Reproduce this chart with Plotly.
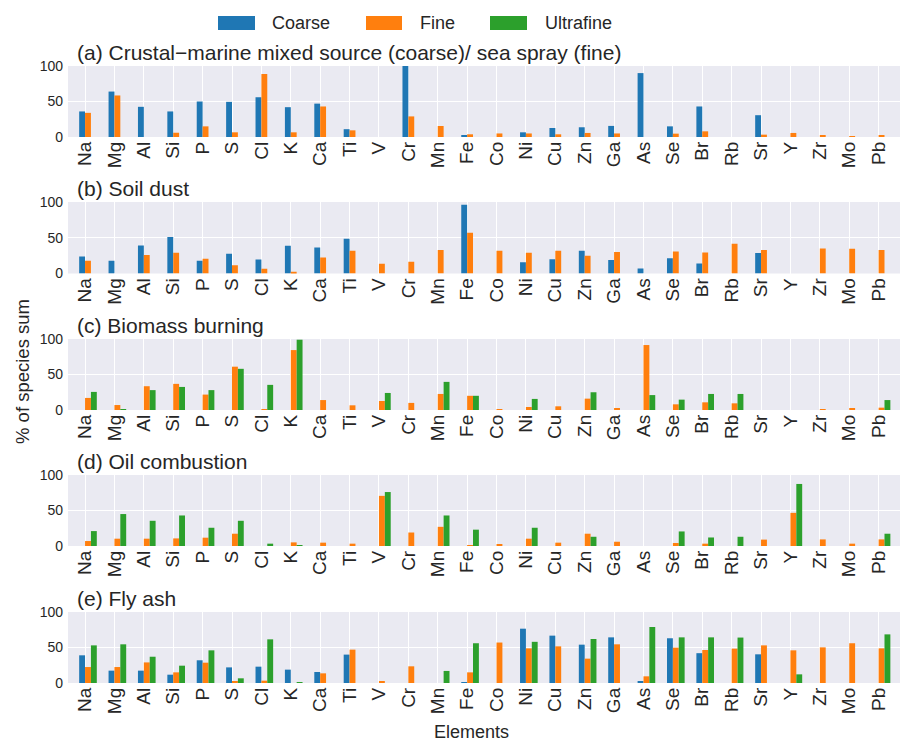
import plotly.graph_objects as go

elements = ["Na", "Mg", "Al", "Si", "P", "S", "Cl", "K", "Ca", "Ti", "V", "Cr", "Mn", "Fe",
            "Co", "Ni", "Cu", "Zn", "Ga", "As", "Se", "Br", "Rb", "Sr", "Y", "Zr", "Mo", "Pb"]
N = None

# (a) Crustal-marine mixed source (coarse) / sea spray (fine)
a_coarse = [36, 64, 42.5, 36, 50, 49.5, 56, 42, 47, 11, N, 100, N, 1.5,
            N, 6.6, 12.7, 13.7, 15.6, 90, 15, 43, N, 30.7, N, N, N, N]
a_fine = [34, 58.5, N, 6, 15, 6.6, 88.7, 6.6, 43, 9.4, N, 29, 15.5, 3.8,
          5, 5, 3.8, 5.7, 5, N, 4.7, 8, N, 3.3, 5.7, 2.4, 1, 2.4]
a_ultra = [N] * 28

# (b) Soil dust
b_coarse = [23.8, 17.8, 39, 51, 17.8, 27.6, 19.6, 38.8, 36.4, 48.6, N, N, N, 96,
            N, 15.9, 20, 31.8, 19, 7, 21.5, 14, N, 28.5, N, N, N, N]
b_fine = [17.8, N, 26, 29, 20.5, 11.7, 6.5, 2.3, 22.4, 31.8, 13.5, 16.4, 33, 57,
          31.8, 29, 31.8, 24.8, 30, N, 30.8, 29.4, 41.6, 33, N, 35, 34.6, 33]
b_ultra = [N] * 28

# (c) Biomass burning
c_coarse = [N] * 28
c_fine = [17, 7, 33.5, 36.8, 21.7, 61, 0.5, 84.4, 14, 6.6, 12.7, 10, 22.6, 20,
          1.4, 4.2, 5.2, 16, 2.4, 91.5, 8, 10.8, 9.4, N, N, 0.5, 1.9, 3.3]
c_ultra = [25.5, 1.4, 28, 32.5, 28, 58, 35.4, 99, N, N, 24, N, 39.6, 20,
           N, 15.6, N, 25, N, 21, 14.6, 22.6, 22.6, N, N, N, N, 14]

# (d) Oil combustion
d_coarse = [N] * 28
d_fine = [7, 10.3, 10.3, 10.7, 11.7, 17.3, N, 5.1, 4.7, 3.3, 70.6, 19, 27, 1.4,
          2, 10.3, 4.7, 17.3, 6, N, 4.2, 3.3, N, 9, 46.7, 9.3, 3.3, 9.3]
d_ultra = [21, 45, 35.5, 43, 25.7, 35.5, 3.3, 0.5, N, N, 76, N, 43, 23,
           N, 25.7, N, 13, N, N, 20.5, 12, 13, N, 87.4, N, N, 17.3]

# (e) Fly ash
e_coarse = [39, 17.4, 17.4, 11.7, 32, 22, 23, 18.8, 15.5, 40, N, N, N, 1,
            N, 76.5, 66.7, 54, 64.3, 1.9, 63, 42, N, 40.4, N, N, N, N]
e_fine = [22.5, 22.5, 29, 15, 28.6, 1.9, 3.3, N, 13.6, 47, 2.3, 23.5, N, 15,
          57, 48.8, 51.6, 34.3, 54.5, 9.4, 49.8, 46.5, 48.4, 53, 46, 50.2, 56, 48.8]
e_ultra = [53, 54.5, 37, 24.4, 46, 6.6, 61.5, 0.5, N, N, N, N, 17, 56,
           N, 58, N, 62, N, 78.9, 64.3, 64.3, 64, N, 12.2, N, N, 68.5]

series_names = ["Coarse", "Fine", "Ultrafine"]
colors = ["#1f77b4", "#ff7f0e", "#2ca02c"]
titles = ["(a) Crustal\u2212marine mixed source (coarse)/ sea spray (fine)",
          "(b) Soil dust", "(c) Biomass burning", "(d) Oil combustion", "(e) Fly ash"]
panels = [(a_coarse, a_fine, a_ultra), (b_coarse, b_fine, b_ultra),
          (c_coarse, c_fine, c_ultra), (d_coarse, d_fine, d_ultra),
          (e_coarse, e_fine, e_ultra)]
y_ticks = [0, 50, 100]

W, H = 908, 742
OFF = 8  # page body margin offset (px)


def px_x(p):
    return (p - OFF) / W


def px_y(p):
    return 1 - (p - OFF) / H


panel_px = [(66, 137), (202, 273.5), (339, 410), (475, 546), (612, 683)]
x_left = 68
x_right = 908
bw = 0.2
offsets = [-0.2, 0.0, 0.2]
text_col = "#262626"
font_fam = "Liberation Sans, Arial, sans-serif"

fig = go.Figure()
layout = dict(
    width=W, height=H, margin=dict(l=0, r=0, t=0, b=0, pad=0, autoexpand=False),
    paper_bgcolor="white", plot_bgcolor="#EAEAF2",
    barmode="overlay", showlegend=False,
    font=dict(family=font_fam, color=text_col),
)
annotations = []
shapes = []
for i, (vals, (top, bot)) in enumerate(zip(panels, panel_px)):
    k = "" if i == 0 else str(i + 1)
    for j in range(3):
        fig.add_trace(go.Bar(
            x=elements, y=vals[j], name=series_names[j],
            marker=dict(color=colors[j], line=dict(width=0)),
            width=bw, offset=offsets[j],
            xaxis="x" + k, yaxis="y" + k,
        ))
    layout["xaxis" + k] = dict(
        domain=[px_x(x_left), px_x(x_right)], anchor="y" + k, type="category",
        range=[-0.58, 28.0], showgrid=True, gridcolor="white", gridwidth=1,
        tickangle=-90, tickfont=dict(size=19, color=text_col),
        ticks="", zeroline=False, showline=False, automargin=False,
    )
    layout["yaxis" + k] = dict(
        domain=[px_y(bot), px_y(top)], anchor="x" + k,
        range=[0, 100], tickvals=y_ticks, showgrid=True, gridcolor="white",
        gridwidth=1, tickfont=dict(size=14, color=text_col), ticks="",
        ticklabelstandoff=4,
        zeroline=False, showline=False, automargin=False,
    )
    annotations.append(dict(
        text=titles[i], xref="paper", yref="paper", x=px_x(75), y=px_y(top),
        xanchor="left", yanchor="bottom", yshift=0, showarrow=False,
        font=dict(size=21, color=text_col),
    ))

# axis titles
annotations.append(dict(text="% of species sum", xref="paper", yref="paper",
                        x=px_x(22), y=px_y(372), textangle=-90, showarrow=False,
                        xanchor="center", yanchor="middle",
                        font=dict(size=18.5, color=text_col)))
annotations.append(dict(text="Elements", xref="paper", yref="paper",
                        x=px_x(471), y=px_y(732), showarrow=False,
                        xanchor="center", yanchor="middle",
                        font=dict(size=18, color=text_col)))

# legend drawn as swatches + text
leg_x = [(218, 255, 270), (366, 402, 418), (490, 527, 543)]
for (x0, x1, tx), nm, c in zip(leg_x, series_names, colors):
    shapes.append(dict(type="rect", xref="paper", yref="paper",
                       x0=px_x(x0), x1=px_x(x1), y0=px_y(30), y1=px_y(16),
                       fillcolor=c, line=dict(width=0)))
    annotations.append(dict(text=nm, xref="paper", yref="paper", x=px_x(tx),
                            y=px_y(23), xanchor="left", yanchor="middle",
                            showarrow=False, font=dict(size=18, color=text_col)))

layout["annotations"] = annotations
layout["shapes"] = shapes
fig.update_layout(**layout)
fig.write_html("out.html")
